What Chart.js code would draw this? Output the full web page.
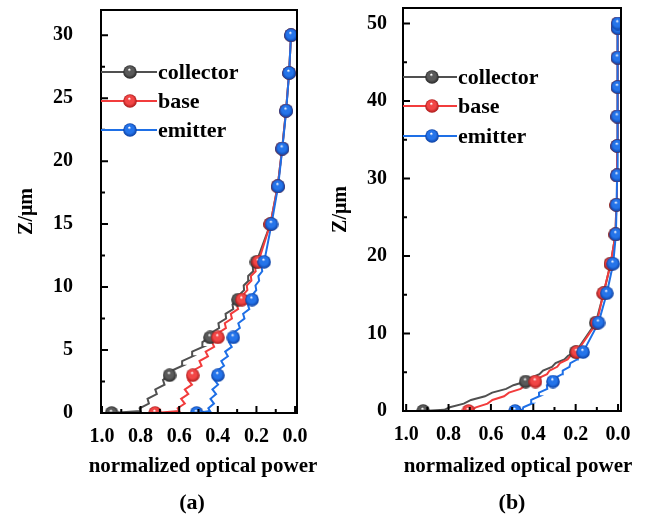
<!DOCTYPE html>
<html>
<head>
<meta charset="utf-8">
<script src="https://cdn.jsdelivr.net/npm/chart.js@4.4.0/dist/chart.umd.min.js"></script>
<style>
  html, body { margin: 0; padding: 0; background: #fff; }
  #wrap { position: relative; width: 653px; height: 521px; }
  canvas { position: absolute; top: 0; }
  #chartA { left: 0; }
  #chartB { left: 320px; }
</style>
</head>
<body>
<div id="wrap">
  <canvas id="chartA" width="320" height="521"></canvas>
  <canvas id="chartB" width="333" height="521"></canvas>
</div>
<script>
const seriesNames = ['collector', 'base', 'emitter'];
const lineColors = ['#505050', '#f23c3c', '#1e6fe6'];
const sphereMid = ['#5a5a5a', '#f24646', '#2574ea'];
const sphereDark = ['#262626', '#a81818', '#0b3d9e'];

const xMajor = [1.0, 0.8, 0.6, 0.4, 0.2, 0.0];
const xMinor = [0.9, 0.7, 0.5, 0.3, 0.1];
const xTitle = 'normalized optical power';

// ---- panel (a) ----
const yMajorA = [0, 5, 10, 15, 20, 25, 30];
const yMinorA = [2.5, 7.5, 12.5, 17.5, 22.5, 27.5];

const zMarkA = [0, 3, 6, 9, 12, 15, 18, 21, 24, 27, 30];
const collectorMarkA = [0.95, 0.65, 0.44, 0.295, 0.20, 0.128, 0.09, 0.067, 0.047, 0.031, 0.021];
const baseMarkA      = [0.725, 0.53, 0.40, 0.275, 0.19, 0.128, 0.09, 0.067, 0.047, 0.031, 0.021];
const emitterMarkA   = [0.51, 0.40, 0.32, 0.223, 0.16, 0.122, 0.088, 0.066, 0.046, 0.031, 0.021];

// traced curve incl. the ripples near the bottom
const zLineA = [0, 0.15, 0.375, 0.75, 1.125, 1.5, 1.875, 2.25, 2.625, 3,
  3.375, 3.75, 4.125, 4.5, 4.875, 5.25, 5.625, 6,
  6.375, 6.75, 7.125, 7.5, 7.875, 8.25, 8.625, 9,
  9.375, 9.75, 10.125, 10.5, 10.875, 11.25, 11.625, 12,
  15, 18, 21, 24, 27, 30];
const collectorLineA = [0.95, 0.80, 0.805, 0.757, 0.764, 0.716, 0.724, 0.676, 0.684, 0.65,
  0.638, 0.583, 0.585, 0.531, 0.533, 0.478, 0.480, 0.44,
  0.433, 0.393, 0.397, 0.357, 0.360, 0.320, 0.324, 0.295,
  0.290, 0.264, 0.266, 0.241, 0.243, 0.217, 0.219, 0.20,
  0.128, 0.09, 0.067, 0.047, 0.031, 0.021];
const baseLineA = [0.725, 0.60, 0.608, 0.571, 0.590, 0.553, 0.571, 0.534, 0.553, 0.53,
  0.528, 0.484, 0.495, 0.451, 0.463, 0.419, 0.430, 0.40,
  0.395, 0.358, 0.364, 0.327, 0.333, 0.295, 0.302, 0.275,
  0.271, 0.247, 0.250, 0.226, 0.229, 0.204, 0.208, 0.19,
  0.128, 0.09, 0.067, 0.047, 0.031, 0.021];
const emitterLineA = [0.51, 0.44, 0.449, 0.420, 0.438, 0.409, 0.428, 0.399, 0.417, 0.40,
  0.402, 0.368, 0.382, 0.348, 0.362, 0.328, 0.342, 0.32,
  0.318, 0.286, 0.294, 0.262, 0.269, 0.237, 0.245, 0.223,
  0.221, 0.201, 0.205, 0.186, 0.190, 0.170, 0.174, 0.16,
  0.122, 0.088, 0.066, 0.046, 0.031, 0.021];

// ---- panel (b) ----
const yMajorB = [0, 10, 20, 30, 40, 50];
const yMinorB = [5, 15, 25, 35, 45];

const zMarkB = [0, 3.8, 7.6, 11.4, 15.2, 19, 22.8, 26.6, 30.4, 34.2, 38, 41.8, 45.6, 49.4, 50];
const collectorMarkB = [0.92, 0.436, 0.20, 0.105, 0.068, 0.035, 0.012, 0.008, 0.005, 0.004, 0.003, 0.002, 0.002, 0.001, 0.001];
const baseMarkB      = [0.706, 0.39, 0.195, 0.10, 0.069, 0.035, 0.012, 0.008, 0.005, 0.004, 0.003, 0.002, 0.002, 0.001, 0.001];
const emitterMarkB   = [0.486, 0.307, 0.165, 0.092, 0.053, 0.023, 0.01, 0.007, 0.004, 0.003, 0.003, 0.002, 0.002, 0.001, 0.001];

const zLineB = [0, 0.15, 0.475, 0.95, 1.425, 1.9, 2.375, 2.85, 3.325, 3.8,
  4.275, 4.75, 5.225, 5.7, 6.175, 6.65, 7.125, 7.6,
  11.4, 15.2, 19, 22.8, 26.6, 30.4, 34.2, 38, 41.8, 45.6, 49.4, 50];
const collectorLineB = [0.92, 0.82, 0.794, 0.728, 0.694, 0.628, 0.594, 0.528, 0.494, 0.436,
  0.413, 0.371, 0.354, 0.312, 0.295, 0.253, 0.236, 0.20,
  0.105, 0.068, 0.035, 0.012, 0.008, 0.005, 0.004, 0.003, 0.002, 0.002, 0.001, 0.001];
const baseLineB = [0.706, 0.69, 0.671, 0.616, 0.593, 0.538, 0.515, 0.460, 0.437, 0.39,
  0.372, 0.335, 0.323, 0.287, 0.274, 0.238, 0.225, 0.195,
  0.10, 0.069, 0.035, 0.012, 0.008, 0.005, 0.004, 0.003, 0.002, 0.002, 0.001, 0.001];
const emitterLineB = [0.486, 0.45, 0.447, 0.408, 0.410, 0.371, 0.373, 0.334, 0.336, 0.307,
  0.296, 0.264, 0.261, 0.229, 0.225, 0.193, 0.190, 0.165,
  0.092, 0.053, 0.023, 0.01, 0.007, 0.004, 0.003, 0.003, 0.002, 0.002, 0.001, 0.001];

const FONT = "'Liberation Serif', 'Times New Roman', serif";

// shaded ball used as point style
function sphere(mid, dark) {
  const c = document.createElement('canvas');
  c.width = 14; c.height = 14;
  const g = c.getContext('2d');
  const grad = g.createRadialGradient(6.2, 4.4, 0.3, 7, 7, 6.9);
  grad.addColorStop(0, '#ffffff');
  grad.addColorStop(0.22, mid);
  grad.addColorStop(0.6, mid);
  grad.addColorStop(1, dark);
  g.fillStyle = grad;
  g.beginPath();
  g.arc(7, 7, 6.8, 0, Math.PI * 2);
  g.fill();
  return c;
}
const balls = sphereMid.map((m, i) => sphere(m, sphereDark[i]));

// box, inward ticks, legend and the text under the x axis
const framePlugin = {
  id: 'frame',
  afterDraw(chart, args, o) {
    const { ctx, chartArea: a, scales: { x, y } } = chart;
    ctx.save();
    ctx.strokeStyle = '#000';
    ctx.lineWidth = 2;
    ctx.beginPath();
    xMajor.forEach(v => { const p = x.getPixelForValue(v); ctx.moveTo(p, a.bottom); ctx.lineTo(p, a.bottom - 7); });
    xMinor.forEach(v => { const p = x.getPixelForValue(v); ctx.moveTo(p, a.bottom); ctx.lineTo(p, a.bottom - 4); });
    o.yMajor.forEach(v => { const p = y.getPixelForValue(v); ctx.moveTo(a.left, p); ctx.lineTo(a.left + 7, p); });
    o.yMinor.forEach(v => { const p = y.getPixelForValue(v); ctx.moveTo(a.left, p); ctx.lineTo(a.left + 4, p); });
    ctx.stroke();
    ctx.strokeRect(a.left, a.top, a.right - a.left, a.bottom - a.top);

    ctx.font = 'bold 22px ' + FONT;
    ctx.textBaseline = 'middle';
    ctx.textAlign = 'left';
    seriesNames.forEach((name, i) => {
      const ly = o.legendRows[i];
      ctx.strokeStyle = lineColors[i];
      ctx.beginPath();
      ctx.moveTo(a.left, ly);
      ctx.lineTo(a.left + o.legendLen, ly);
      ctx.stroke();
      ctx.drawImage(balls[i], a.left + 29 - 7, ly - 7);
      ctx.fillStyle = '#000';
      ctx.fillText(name, a.left + o.legendLen + 1, ly + 1);
    });

    const mid = (a.left + a.right) / 2;
    ctx.fillStyle = '#000';
    ctx.textAlign = 'center';
    ctx.font = 'bold 21px ' + FONT;
    ctx.fillText(xTitle, mid + o.titleShift, 467);
    ctx.font = 'bold 22px ' + FONT;
    ctx.fillText(o.panelLabel, mid + o.labelShift, 503);
    ctx.restore();
  }
};

function makePanel(id, p) {
  const lineSets = p.lines.map((vals, i) => ({
    label: seriesNames[i],
    data: p.zLine.map((z, j) => ({ x: vals[j], y: z })),
    showLine: true,
    borderColor: lineColors[i],
    borderWidth: 2,
    pointRadius: 0,
    order: 5 - i
  }));
  const markSets = p.marks.map((vals, i) => ({
    label: seriesNames[i],
    data: p.zMark.map((z, j) => ({ x: vals[j], y: z })),
    showLine: false,
    pointStyle: balls[i],
    pointRadius: 7,
    order: 2 - i
  }));
  return new Chart(document.getElementById(id), {
    type: 'scatter',
    data: { datasets: lineSets.concat(markSets) },
    plugins: [framePlugin],
    options: {
      responsive: false,
      animation: false,
      events: [],
      layout: { padding: { left: 0, right: p.padRight, top: p.padTop, bottom: 0 } },
      plugins: {
        legend: { display: false },
        tooltip: { enabled: false },
        frame: {
          yMajor: p.yMajor, yMinor: p.yMinor,
          legendRows: p.legendRows, legendLen: p.legendLen,
          panelLabel: p.panelLabel, titleShift: p.titleShift, labelShift: p.labelShift
        }
      },
      scales: {
        x: {
          type: 'linear',
          reverse: true,
          min: p.xMin,
          max: p.xMax,
          afterBuildTicks: s => { s.ticks = xMajor.map(v => ({ value: v })); },
          afterFit: s => { s.height = p.xScaleH; s.paddingLeft = 0; s.paddingRight = 0; },
          grid: { display: false, drawTicks: false },
          border: { display: false },
          ticks: {
            padding: 12,
            color: '#000',
            font: { family: FONT, size: 20, weight: 'bold' },
            callback: v => Number(v).toFixed(1)
          }
        },
        y: {
          type: 'linear',
          min: 0,
          max: p.yMax,
          afterBuildTicks: s => { s.ticks = p.yMajor.map(v => ({ value: v })); },
          afterFit: s => { s.width = p.areaLeft; s.paddingTop = 0; s.paddingBottom = 0; },
          grid: { display: false, drawTicks: false },
          border: { display: false },
          ticks: {
            padding: p.yTickPad,
            color: '#000',
            font: { family: FONT, size: 20, weight: 'bold' }
          },
          title: {
            display: true,
            text: 'Z/\u03bcm',
            color: '#000',
            font: { family: FONT, size: 20, weight: 'bold' },
            padding: { top: p.yTitlePad, bottom: 0 }
          }
        }
      }
    }
  });
}

makePanel('chartA', {
  zLine: zLineA, lines: [collectorLineA, baseLineA, emitterLineA],
  zMark: zMarkA, marks: [collectorMarkA, baseMarkA, emitterMarkA],
  xMin: -0.01, xMax: 1.005, yMax: 32,
  yMajor: yMajorA, yMinor: yMinorA,
  areaLeft: 101, padRight: 23, padTop: 10, xScaleH: 108,
  yTickPad: 28, yTitlePad: 15,
  legendRows: [72, 101, 130], legendLen: 56,
  panelLabel: '(a)', titleShift: 4, labelShift: -7
});

makePanel('chartB', {
  zLine: zLineB, lines: [collectorLineB, baseLineB, emitterLineB],
  zMark: zMarkB, marks: [collectorMarkB, baseMarkB, emitterMarkB],
  xMin: -0.014, xMax: 1.015, yMax: 52,
  yMajor: yMajorB, yMinor: yMinorB,
  areaLeft: 83, padRight: 32, padTop: 8, xScaleH: 110,
  yTickPad: 16, yTitlePad: 9,
  legendRows: [77, 106, 136], legendLen: 54,
  panelLabel: '(b)', titleShift: 6, labelShift: 0
});
</script>
</body>
</html>
